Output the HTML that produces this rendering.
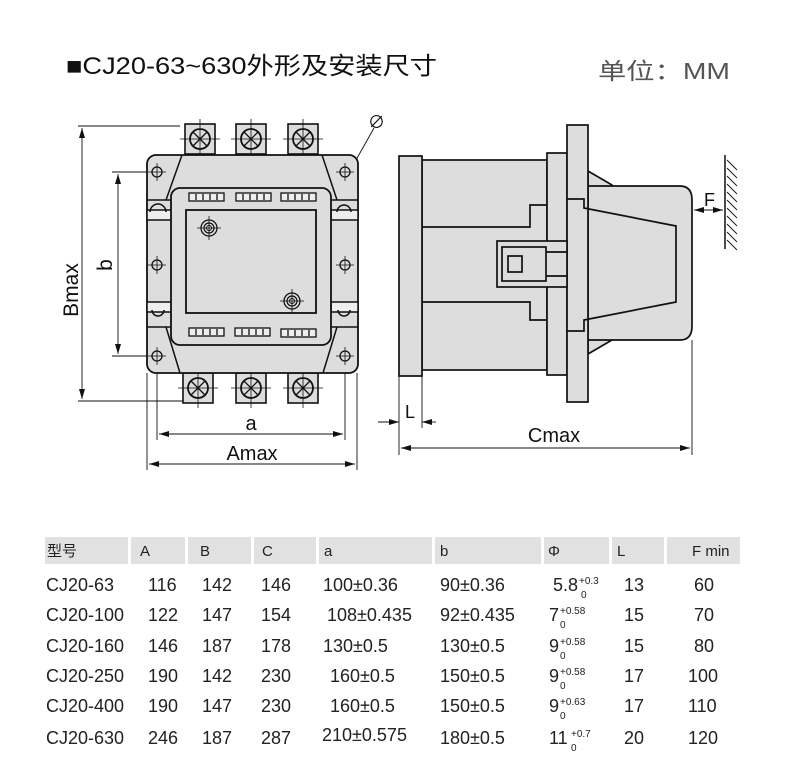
<!DOCTYPE html>
<html><head><meta charset="utf-8"><style>
body{margin:0;background:#fff;width:790px;height:772px;overflow:hidden}
svg{display:block}
.t{font-family:"Liberation Sans","Noto Sans CJK SC",sans-serif}
</style></head><body>
<svg width="790" height="772" viewBox="0 0 790 772" xmlns="http://www.w3.org/2000/svg">
<defs>
<marker id="ar" markerWidth="10" markerHeight="6" refX="10" refY="3" orient="auto-start-reverse" markerUnits="userSpaceOnUse"><path d="M0,0 L10,3 L0,6 z" fill="#111"/></marker>
<g id="term">
<rect x="-15" y="-15" width="30" height="30" fill="#ddd" stroke="#111" stroke-width="1.6"/>
<circle r="10" fill="none" stroke="#111" stroke-width="1.8"/>
<path d="M-7,-7 L7,7 M7,-7 L-7,7" stroke="#111" stroke-width="1.3"/>
<path d="M-20,0 H20 M0,-20 V20" stroke="#111" stroke-width="0.8"/>
</g>
<g id="hole"><circle r="5" fill="none" stroke="#111" stroke-width="1.3"/><path d="M-9,0 H9 M0,-9 V9" stroke="#111" stroke-width="0.8"/></g>
<g id="slot"><rect x="0" y="0" width="35" height="8" fill="#eee" stroke="#111" stroke-width="1.3"/><path d="M7,1 V7 M14,1 V7 M21,1 V7 M28,1 V7" stroke="#111" stroke-width="1.3"/></g>
<g id="bolt"><circle r="8" fill="none" stroke="#111" stroke-width="1.3"/><circle r="5" fill="none" stroke="#111" stroke-width="1.2"/><circle r="2.5" fill="none" stroke="#111"/><path d="M-12,0 H12 M0,-12 V12" stroke="#111" stroke-width="0.8"/></g>
</defs>

<text x="66" y="74" class="t" font-size="24" fill="#111" textLength="371" lengthAdjust="spacingAndGlyphs">■CJ20-63~630外形及安装尺寸</text>
<text x="598" y="79" class="t" font-size="23" fill="#555" textLength="132" lengthAdjust="spacingAndGlyphs">单位：MM</text>

<g stroke="#111" stroke-width="0.9" fill="none">
<path d="M78,126 H180 M78,401 H200"/>
<path d="M82,128 V399" marker-start="url(#ar)" marker-end="url(#ar)"/>
<path d="M112,172 H160 M112,356 H160"/>
<path d="M118,174 V354" marker-start="url(#ar)" marker-end="url(#ar)"/>
<path d="M157,356 V440 M345,356 V440 M147,373 V470 M357,373 V470"/>
<path d="M159,434 H343" marker-start="url(#ar)" marker-end="url(#ar)"/>
<path d="M149,464 H355" marker-start="url(#ar)" marker-end="url(#ar)"/>
<path d="M374,128 L356,160" />
<path d="M356,160 L347,176" marker-end="url(#ar)"/>
<path d="M340,186 L333,196" marker-end="url(#ar)"/>
</g>
<text x="368" y="128" class="t" font-size="17" fill="#111">∅</text>
<text x="78" y="290" class="t" font-size="21" fill="#111" transform="rotate(-90 78 290)" text-anchor="middle">Bmax</text>
<text x="112" y="265" class="t" font-size="21" fill="#111" transform="rotate(-90 112 265)" text-anchor="middle">b</text>
<text x="251" y="430" class="t" font-size="20" fill="#111" text-anchor="middle">a</text>
<text x="252" y="460" class="t" font-size="20" fill="#111" text-anchor="middle">Amax</text>

<use href="#term" x="200" y="139"/><use href="#term" x="251" y="139"/><use href="#term" x="303" y="139"/>
<use href="#term" x="198" y="388"/><use href="#term" x="251" y="388"/><use href="#term" x="303" y="388"/>

<rect x="147" y="155" width="211" height="218" rx="9" fill="#ddd" stroke="#111" stroke-width="1.8"/>
<g stroke="#111" stroke-width="1.5" fill="none">
<path d="M182,155 L166,200 M322,155 L337,200 M166,327 L180,373 M337,327 L323,373"/>
<path d="M147,200 H172 M147,327 H172 M331,200 H358 M331,327 H358"/>
<rect x="147" y="210" width="25" height="10" fill="#eee"/>
<rect x="147" y="302" width="25" height="10" fill="#eee"/>
<rect x="331" y="210" width="27" height="10" fill="#eee"/>
<rect x="331" y="302" width="27" height="10" fill="#eee"/>
<path d="M150,212 A8,8 0 0 1 166,212 M152,310 A6,6 0 0 0 164,310 M337,212 A7,7 0 0 1 351,212 M338,310 A6,6 0 0 0 350,310"/>
</g>
<use href="#hole" x="157" y="172"/><use href="#hole" x="157" y="265"/><use href="#hole" x="157" y="356"/>
<use href="#hole" x="345" y="172"/><use href="#hole" x="345" y="265"/><use href="#hole" x="345" y="356"/>
<rect x="171" y="188" width="160" height="157" rx="9" fill="#ddd" stroke="#111" stroke-width="1.8"/>
<rect x="186" y="210" width="130" height="103" fill="#ddd" stroke="#111" stroke-width="1.8"/>
<use href="#slot" x="189" y="193"/><use href="#slot" x="236" y="193"/><use href="#slot" x="281" y="193"/>
<use href="#slot" x="189" y="328"/><use href="#slot" x="235" y="328"/><use href="#slot" x="281" y="329"/>
<use href="#bolt" x="209" y="228"/><use href="#bolt" x="292" y="301"/>

<g stroke="#111" stroke-width="1.7" fill="#ddd">
<path d="M588,171 L612,185 L612,340 L588,354 z"/>
<rect x="422" y="160" width="125" height="210"/>
<rect x="399" y="156" width="23" height="220"/>
<path d="M588,186 H680 Q692,186 692,200 V326 Q692,340 680,340 H588 z"/>
<rect x="547" y="153" width="20" height="222"/>
<rect x="567" y="125" width="21" height="277"/>
<path d="M567,199 H584 V208 L676,226 V302 L584,320 V331 H567" fill="none"/>
<path d="M422,227 H530 V205 H547 M422,302 H530 V320 H547" fill="none"/>
<rect x="497" y="241" width="70" height="46"/>
<path d="M546,252 H567 M546,276 H567" fill="none"/>
<rect x="502" y="247" width="44" height="34" fill="#ddd"/>
<rect x="508" y="256" width="14" height="16" fill="#ddd"/>
</g>
<g stroke="#111" stroke-width="0.9" fill="none">
<path d="M399,376 V455 M422,376 V428 M692,340 V455"/>
<path d="M378,422 H399" marker-end="url(#ar)"/>
<path d="M436,422 H422" marker-end="url(#ar)"/>
<path d="M401,448 H690" marker-start="url(#ar)" marker-end="url(#ar)"/>
<path d="M694,210 H723" marker-start="url(#ar)" marker-end="url(#ar)"/>
<path d="M725,155 V249" stroke-width="1.5"/>
<path d="M727,160 L737,170 M727,168 L737,178 M727,176 L737,186 M727,184 L737,194 M727,192 L737,202 M727,200 L737,210 M727,208 L737,218 M727,216 L737,226 M727,224 L737,234 M727,232 L737,242 M727,240 L737,250"/>
</g>
<text x="405" y="418" class="t" font-size="18" fill="#111">L</text>
<text x="554" y="442" class="t" font-size="20" fill="#111" text-anchor="middle">Cmax</text>
<text x="704" y="206" class="t" font-size="18" fill="#111">F</text>

<g fill="#e1e1e1">
<rect x="45" y="537" width="83" height="27"/><rect x="131" y="537" width="54" height="27"/><rect x="188" y="537" width="63" height="27"/><rect x="254" y="537" width="62" height="27"/><rect x="319" y="537" width="113" height="27"/><rect x="435" y="537" width="106" height="27"/><rect x="544" y="537" width="65" height="27"/><rect x="612" y="537" width="52" height="27"/><rect x="667" y="537" width="73" height="27"/>
</g>
<g class="t" font-size="15" fill="#222">
<text x="47" y="556">型号</text><text x="140" y="556">A</text><text x="200" y="556">B</text><text x="262" y="556">C</text><text x="324" y="556">a</text><text x="440" y="556">b</text><text x="548" y="556">Φ</text><text x="617" y="556">L</text><text x="692" y="556">F min</text>
</g>
<g class="t" font-size="18" fill="#222">
<text x="46" y="591">CJ20-63</text><text x="148" y="591">116</text><text x="202" y="591">142</text><text x="261" y="591">146</text><text x="323" y="591">100±0.36</text><text x="440" y="591">90±0.36</text><text x="553" y="591">5.8</text><text x="624" y="591">13</text><text x="694" y="591">60</text>
<text x="46" y="621">CJ20-100</text><text x="148" y="621">122</text><text x="202" y="621">147</text><text x="261" y="621">154</text><text x="327" y="621">108±0.435</text><text x="440" y="621">92±0.435</text><text x="549" y="621">7</text><text x="624" y="621">15</text><text x="694" y="621">70</text>
<text x="46" y="652">CJ20-160</text><text x="148" y="652">146</text><text x="202" y="652">187</text><text x="261" y="652">178</text><text x="323" y="652">130±0.5</text><text x="440" y="652">130±0.5</text><text x="549" y="652">9</text><text x="624" y="652">15</text><text x="694" y="652">80</text>
<text x="46" y="682">CJ20-250</text><text x="148" y="682">190</text><text x="202" y="682">142</text><text x="261" y="682">230</text><text x="330" y="682">160±0.5</text><text x="440" y="682">150±0.5</text><text x="549" y="682">9</text><text x="624" y="682">17</text><text x="688" y="682">100</text>
<text x="46" y="712">CJ20-400</text><text x="148" y="712">190</text><text x="202" y="712">147</text><text x="261" y="712">230</text><text x="330" y="712">160±0.5</text><text x="440" y="712">150±0.5</text><text x="549" y="712">9</text><text x="624" y="712">17</text><text x="688" y="712">110</text>
<text x="46" y="744">CJ20-630</text><text x="148" y="744">246</text><text x="202" y="744">187</text><text x="261" y="744">287</text><text x="322" y="741">210±0.575</text><text x="440" y="744">180±0.5</text><text x="549" y="744">11</text><text x="624" y="744">20</text><text x="688" y="744">120</text>
</g>
<g class="t" font-size="10" fill="#222">
<text x="579" y="584">+0.3</text><text x="581" y="598">0</text>
<text x="560" y="614">+0.58</text><text x="560" y="628">0</text>
<text x="560" y="645">+0.58</text><text x="560" y="659">0</text>
<text x="560" y="675">+0.58</text><text x="560" y="689">0</text>
<text x="560" y="705">+0.63</text><text x="560" y="719">0</text>
<text x="571" y="737">+0.7</text><text x="571" y="751">0</text>
</g>
</svg>
</body></html>
